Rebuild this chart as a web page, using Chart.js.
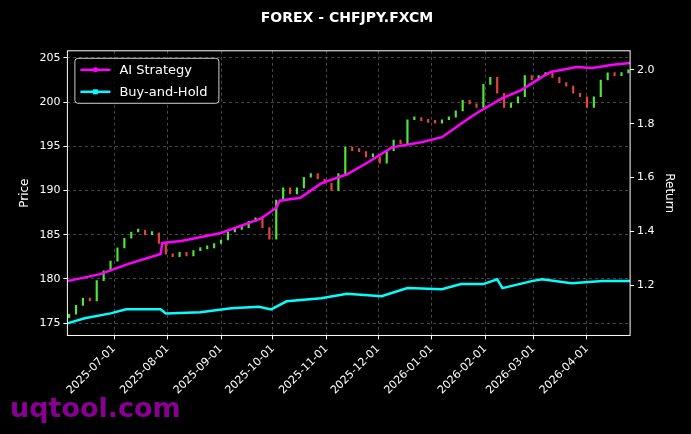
<!DOCTYPE html>
<html><head><meta charset="utf-8">
<script src="https://cdn.jsdelivr.net/npm/chart.js@4.4.1/dist/chart.umd.min.js"></script>
<style>
  html,body{margin:0;background:#000;}
  #wrap{position:relative;width:691px;height:434px;}
  #wm{position:absolute;left:10px;top:392px;font:bold 27px "DejaVu Sans",sans-serif;color:rgba(160,0,170,0.85);}
</style></head>
<body>
<div id="wrap"><canvas id="c" width="691" height="434"></canvas><div id="wm">uqtool.com</div></div>
<script>
// ── data ──
const candleStart = '2025-06-05';   // one candle every 4 days
const candleClose = [176.0,177.0,177.8,177.5,179.8,180.9,182.0,183.5,184.6,185.3,185.5,185.0,185.2,184.0,182.8,182.5,183.0,182.6,183.2,183.4,
  183.5,184.0,184.4,185.3,185.6,185.8,186.5,186.9,185.8,184.5,188.9,190.3,189.6,190.3,191.5,191.9,191.3,190.8,190.0,191.9,
  194.9,194.5,194.4,193.8,193.8,193.1,194.5,195.7,195.3,198.0,198.2,197.9,197.7,197.6,198.0,198.3,199.0,200.2,199.8,199.4,
  202.0,202.8,201.0,199.4,199.9,200.6,203.0,202.5,203.0,203.3,202.8,202.2,201.8,201.0,200.6,199.4,200.6,202.5,203.3,203.0,203.3,203.3];
const candleOpen0 = 175.6;

const aiDates = ['2025-06-04','2025-06-23','2025-07-09','2025-07-28','2025-07-29','2025-08-09','2025-09-01','2025-09-24','2025-10-03','2025-10-05',
  '2025-10-17','2025-10-29','2025-11-13','2025-11-24','2025-12-09','2025-12-26','2026-01-07','2026-01-18','2026-01-27','2026-02-11',
  '2026-02-22','2026-03-06','2026-03-11','2026-03-26','2026-04-04','2026-04-16','2026-04-26'];
const aiReturn = [1.215,1.241,1.278,1.316,1.357,1.364,1.394,1.447,1.488,1.514,1.525,1.578,1.612,1.652,1.712,1.731,1.750,1.800,1.839,1.895,
  1.925,1.974,1.992,2.011,2.007,2.019,2.026];

const bhDates = ['2025-06-04','2025-06-14','2025-06-29','2025-07-08','2025-07-28','2025-07-31','2025-08-20','2025-09-07','2025-09-23','2025-09-30',
  '2025-10-09','2025-10-29','2025-11-13','2025-12-03','2025-12-18','2026-01-07','2026-01-18','2026-01-31','2026-02-08','2026-02-11',
  '2026-02-28','2026-03-06','2026-03-23','2026-04-10','2026-04-26'];
const bhReturn = [1.058,1.077,1.095,1.110,1.110,1.095,1.099,1.114,1.120,1.110,1.140,1.151,1.168,1.159,1.189,1.185,1.204,1.204,1.222,1.189,
  1.215,1.222,1.207,1.215,1.215];

const monthTicks = ['2025-07-01','2025-08-01','2025-09-01','2025-10-01','2025-11-01','2025-12-01','2026-01-01','2026-02-01','2026-03-01','2026-04-01'];
const priceTicks = [175,180,185,190,195,200,205];
const returnTicks = [1.2,1.4,1.6,1.8,2.0];

// ── helpers ──
const day = s => Date.parse(s + 'T00:00:00Z') / 86400000;
const fmt = d => new Date(d * 86400000).toISOString().slice(0, 10);

const startDay = day(candleStart);
const candles = candleClose.map((c, i) => {
  const o = i === 0 ? candleOpen0 : candleClose[i - 1];
  return { x: startDay + 4 * i, y: [o, c], up: c >= o };
});

const GREEN = 'rgba(90,255,60,0.9)', RED = 'rgba(255,75,60,0.9)';
const gridCol = 'rgba(255,255,255,0.28)';

// background, frame and a matplotlib-like legend box
const frame = {
  id: 'frame',
  beforeDraw(ch) {
    const g = ch.ctx; g.save(); g.fillStyle = '#000'; g.fillRect(0, 0, ch.width, ch.height); g.restore();
  },
  afterDraw(ch) {
    const a = ch.chartArea, g = ch.ctx;
    g.save(); g.strokeStyle = '#fff'; g.lineWidth = 1;
    g.strokeRect(a.left, a.top, a.right - a.left, a.bottom - a.top);
    const bx = a.left + 7, by = a.top + 7, bw = 144, bh = 45;
    g.fillStyle = 'rgba(0,0,0,0.8)'; g.strokeStyle = '#ccc';
    g.beginPath(); g.roundRect(bx + 0.5, by + 0.5, bw, bh, 3); g.fill(); g.stroke();
    g.font = '13px "DejaVu Sans"'; g.textBaseline = 'middle';
    ch.data.datasets.slice(0, 2).forEach((ds, i) => {
      const y = by + 12 + i * 22;
      g.strokeStyle = ds.borderColor; g.fillStyle = ds.borderColor; g.lineWidth = 2.5;
      g.beginPath(); g.moveTo(bx + 6, y); g.lineTo(bx + 36, y); g.stroke();
      if (i === 0) { g.beginPath(); g.arc(bx + 21, y, 2.5, 0, 7); g.fill(); }
      else g.fillRect(bx + 18.5, y - 2.5, 5, 5);
      g.fillStyle = '#fff'; g.fillText(ds.label, bx + 45, y + 1);
    });
    g.restore();
  }
};

new Chart(document.getElementById('c'), {
  data: {
    datasets: [
      { type: 'line', label: 'AI Strategy', yAxisID: 'yR', data: aiDates.map((d, i) => ({ x: day(d), y: aiReturn[i] })),
        borderColor: '#ff00ff', backgroundColor: '#ff00ff', borderWidth: 2.5, pointRadius: 0, tension: 0, order: 0 },
      { type: 'line', label: 'Buy-and-Hold', yAxisID: 'yR', data: bhDates.map((d, i) => ({ x: day(d), y: bhReturn[i] })),
        borderColor: '#00ffff', backgroundColor: '#00ffff', borderWidth: 2.5, pointRadius: 0, tension: 0, order: 1 },
      { type: 'bar', label: 'candles', yAxisID: 'y', data: candles,
        backgroundColor: candles.map(c => c.up ? GREEN : RED), barThickness: 1.5, minBarLength: 3, order: 2 }
    ]
  },
  options: {
    responsive: false, animation: false,
    layout: { padding: { left: 14, right: 11, top: 0, bottom: 34 } },
    plugins: {
      title: { display: true, text: 'FOREX - CHFJPY.FXCM', color: '#fff', font: { family: 'DejaVu Sans', size: 14, weight: 'bold' }, padding: { top: 10, bottom: 24 } },
      legend: { display: false },
      tooltip: { enabled: false }
    },
    scales: {
      x: {
        type: 'linear', offset: false, min: day('2025-06-04'), max: day('2026-04-26'),
        afterBuildTicks: ax => { ax.ticks = monthTicks.map(m => ({ value: day(m) })); },
        ticks: { color: '#fff', font: { family: 'DejaVu Sans', size: 11 }, maxRotation: 45, minRotation: 45, callback: v => fmt(v) },
        grid: { offset: false, color: gridCol, tickColor: '#fff', tickLength: 4 }, border: { display: false, dash: [3, 3] }
      },
      y: {
        position: 'left', min: 173.6, max: 205.8,
        afterBuildTicks: ax => { ax.ticks = priceTicks.map(v => ({ value: v })); },
        ticks: { color: '#fff', font: { family: 'DejaVu Sans', size: 11 } },
        title: { display: true, text: 'Price', color: '#fff', font: { family: 'DejaVu Sans', size: 12 } },
        grid: { color: gridCol, tickColor: '#fff', tickLength: 4 }, border: { display: false, dash: [3, 3] }
      },
      yR: {
        position: 'right', min: 1.013, max: 2.071,
        afterBuildTicks: ax => { ax.ticks = returnTicks.map(v => ({ value: v })); },
        ticks: { color: '#fff', font: { family: 'DejaVu Sans', size: 11 }, callback: v => v.toFixed(1) },
        title: { display: true, text: 'Return', color: '#fff', font: { family: 'DejaVu Sans', size: 12 } },
        grid: { drawOnChartArea: false, tickColor: '#fff', tickLength: 4 }, border: { display: false }
      }
    }
  },
  plugins: [frame]
});
</script>
</body></html>
